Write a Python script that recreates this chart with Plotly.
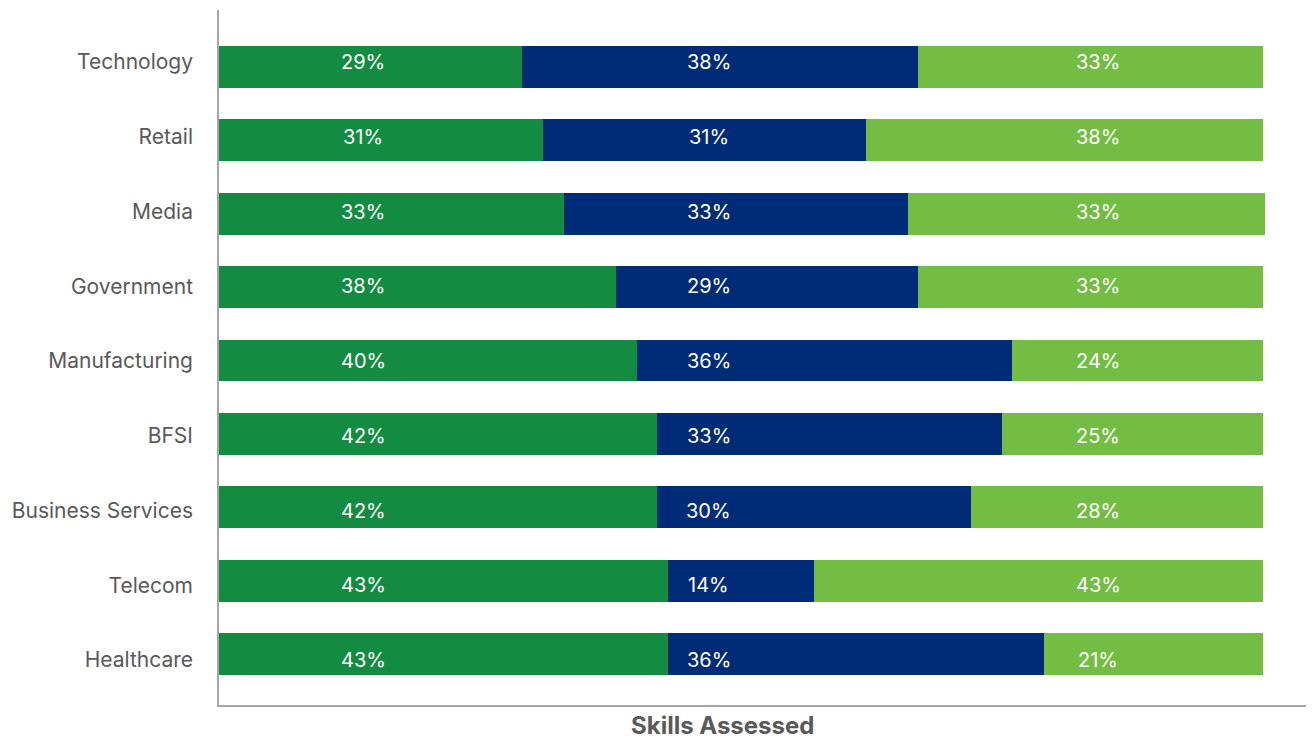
import plotly.graph_objects as go

categories = ["Technology", "Retail", "Media", "Government", "Manufacturing",
              "BFSI", "Business Services", "Telecom", "Healthcare"]
series_names = ["Segment A", "Segment B", "Segment C"]
seg_a = [29, 31, 33, 38, 40, 42, 42, 43, 43]
seg_b = [38, 31, 33, 29, 36, 33, 30, 14, 36]
seg_c = [33, 38, 34.2, 33, 24, 25, 28, 43, 21]
labels_a = ["29%", "31%", "33%", "38%", "40%", "42%", "42%", "43%", "43%"]
labels_b = ["38%", "31%", "33%", "29%", "36%", "33%", "30%", "14%", "36%"]
labels_c = ["33%", "38%", "33%", "33%", "24%", "25%", "28%", "43%", "21%"]
x_title = "Skills Assessed"

colors = ["#138C42", "#002C77", "#74BD44"]
label_x = [13.8, 46.9, 84.2]
FONT = "Inter, Roboto, sans-serif"
idx = list(range(len(categories)))

fig = go.Figure()
for name, vals, col in zip(series_names, [seg_a, seg_b, seg_c], colors):
    fig.add_trace(go.Bar(y=categories, x=vals, name=name, orientation="h",
                         marker=dict(color=col, line=dict(width=0)),
                         hoverinfo="x+y"))

# label layer on an overlaying axis (text grid in the original is slightly wider than the bar grid)
fig.add_trace(go.Scatter(x=[0] * len(idx), y=idx, yaxis="y2", mode="markers",
                         marker=dict(opacity=0), showlegend=False, hoverinfo="skip"))

for lx, labs in zip(label_x, [labels_a, labels_b, labels_c]):
    for i, t in zip(idx, labs):
        fig.add_annotation(x=lx, y=i, xref="x", yref="y2", text=t, showarrow=False,
                           xanchor="center", yanchor="middle",
                           font=dict(family=FONT, size=20, color="white"))

fig.add_annotation(x=0.46, y=-0.0532, xref="paper", yref="paper", text="<b>" + x_title + "</b>",
                   showarrow=False, xanchor="center", yanchor="bottom",
                   font=dict(family=FONT, size=24, color="#595959"))

fig.update_layout(
    width=1306, height=734,
    barmode="stack", bargap=0.43,
    showlegend=False,
    plot_bgcolor="white", paper_bgcolor="white",
    margin=dict(l=211, r=1, t=2, b=37, pad=0),
    font=dict(family=FONT, size=20, color="#595959"),
    yaxis2=dict(overlaying="y", side="left", range=[8.602, -0.6957],
                tickmode="array", tickvals=idx, ticktext=categories,
                showline=False, showgrid=False, zeroline=False, ticks="",
                ticklabelstandoff=25,
                tickfont=dict(family=FONT, size=21, color="#595959")),
)
fig.update_xaxes(range=[0, 104.79], showgrid=False, zeroline=False, showticklabels=False,
                 showline=True, linecolor="#A6A6A6", linewidth=2, ticks="")
fig.layout.yaxis.update(type="category", categoryorder="array", categoryarray=categories,
                        range=[8.695, -0.777], showgrid=False, zeroline=False, showticklabels=False,
                        showline=True, linecolor="#A6A6A6", linewidth=2, ticks="")

fig.write_html("out.html")
